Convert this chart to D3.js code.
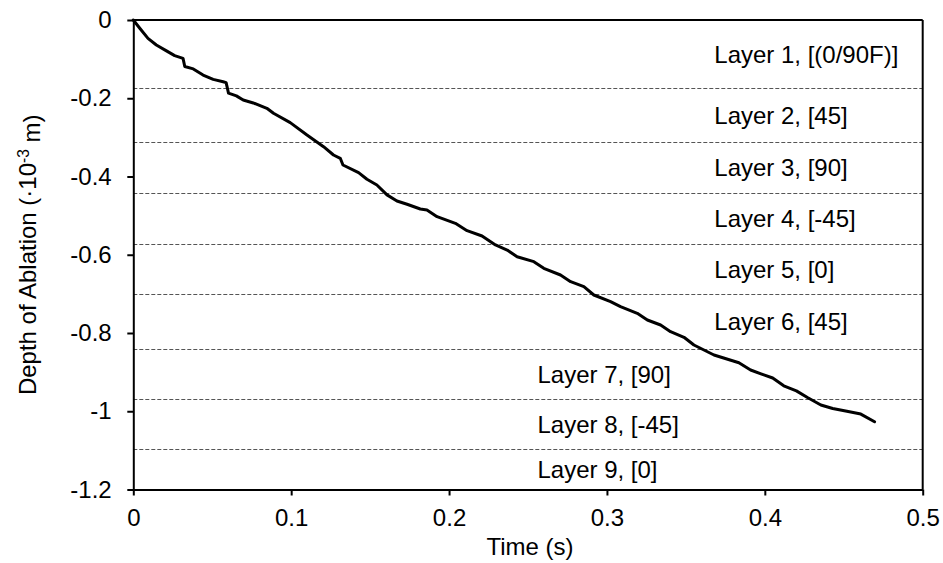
<!DOCTYPE html>
<html>
<head>
<meta charset="utf-8">
<script src="https://cdn.jsdelivr.net/npm/d3@7/dist/d3.min.js"></script>
<style>
  html, body { margin: 0; padding: 0; background: #fff; }
  svg { display: block; font-family: Arial, "Liberation Sans", Helvetica, sans-serif; }
</style>
</head>
<body>
<svg id="chart" width="943" height="563"></svg>
<script>
// Ablation depth over time (s, 10^-3 m)
const timeS = [0, 0.0041, 0.0093, 0.0146, 0.021, 0.0262, 0.0315, 0.0326, 0.038, 0.0442, 0.0506,
  0.0569, 0.0588, 0.0603, 0.0653, 0.0696, 0.0760, 0.0846, 0.0888, 0.0994, 0.110, 0.1205,
  0.1268, 0.1311, 0.1328, 0.1427, 0.148, 0.1543, 0.1607, 0.167, 0.1734, 0.1818, 0.186,
  0.1924, 0.204, 0.2114, 0.2209, 0.2294, 0.2368, 0.2431, 0.2537, 0.260, 0.2706, 0.277,
  0.2854, 0.2917, 0.3023, 0.3086, 0.3192, 0.3256, 0.334, 0.3403, 0.3488, 0.3551, 0.3678,
  0.3836, 0.391, 0.398, 0.405, 0.412, 0.420, 0.427, 0.4355, 0.443, 0.452, 0.4608, 0.4695];
const depth = [0, -0.0212, -0.047, -0.064, -0.079, -0.091, -0.098, -0.119, -0.125, -0.1406, -0.1517,
  -0.1577, -0.160, -0.187, -0.194, -0.2045, -0.212, -0.2257, -0.2385, -0.2624, -0.294, -0.3238,
  -0.345, -0.3535, -0.3706, -0.390, -0.407, -0.4217, -0.447, -0.4626, -0.471, -0.483, -0.4856,
  -0.5027, -0.5197, -0.5385, -0.552, -0.575, -0.5879, -0.605, -0.6177, -0.6347, -0.6518, -0.6688,
  -0.6816, -0.7029, -0.720, -0.7328, -0.7497, -0.7668, -0.7796, -0.7966, -0.811, -0.8307, -0.8562,
  -0.876, -0.8946, -0.905, -0.915, -0.935, -0.948, -0.965, -0.984, -0.993, -1.000, -1.0072, -1.0267];

// Ply boundaries (10^-3 m) and ply labels
const layerBounds = [-0.175, -0.311, -0.441, -0.5725, -0.701, -0.841, -0.969, -1.0965];
const layerNames = ["Layer 1, [(0/90F)]", "Layer 2, [45]", "Layer 3, [90]", "Layer 4, [-45]",
  "Layer 5, [0]", "Layer 6, [45]", "Layer 7, [90]", "Layer 8, [-45]", "Layer 9, [0]"];
const layerLabelTime = [0.368, 0.368, 0.368, 0.368, 0.368, 0.368, 0.256, 0.256, 0.256];

const xTicks = [0, 0.1, 0.2, 0.3, 0.4, 0.5];
const xTickLabels = ["0", "0.1", "0.2", "0.3", "0.4", "0.5"];
const yTicks = [0, -0.2, -0.4, -0.6, -0.8, -1.0, -1.2];
const yTickLabels = ["0", "-0.2", "-0.4", "-0.6", "-0.8", "-1", "-1.2"];

const W = 943, H = 563;
const margin = { top: 20, right: 20.3, bottom: 73.5, left: 133.3 };
const iw = W - margin.left - margin.right;
const ih = H - margin.top - margin.bottom;
const FS = 24;

const svg = d3.select("#chart");
const g = svg.append("g").attr("transform", `translate(${margin.left},${margin.top})`);

const x = d3.scaleLinear().domain([0, 0.5]).range([0, iw]);
const y = d3.scaleLinear().domain([-1.2, 0]).range([ih, 0]);

// Dashed ply boundaries
g.append("g").selectAll("line").data(layerBounds).join("line")
  .attr("x1", 0).attr("x2", iw)
  .attr("y1", d => Math.round(y(d)) + 0.5).attr("y2", d => Math.round(y(d)) + 0.5)
  .attr("stroke", "#555").attr("stroke-width", 1).attr("stroke-dasharray", "4,2");

// Ply labels, centred vertically in each ply
const edges = [0, ...layerBounds, -1.2];
const labelDepth = layerNames.map((_, i) => (edges[i] + edges[i + 1]) / 2);
g.append("g").selectAll("text").data(layerNames).join("text")
  .attr("x", (d, i) => x(layerLabelTime[i]))
  .attr("y", (d, i) => y(labelDepth[i]))
  .attr("dy", "0.36em")
  .attr("font-size", FS).attr("fill", "#000")
  .text(d => d);

// Axes
const xAxis = d3.axisBottom(x).tickValues(xTicks)
  .tickFormat((d, i) => xTickLabels[i]).tickSizeInner(6).tickSizeOuter(0).tickPadding(13.5);
const yAxis = d3.axisLeft(y).tickValues(yTicks)
  .tickFormat((d, i) => yTickLabels[i]).tickSizeInner(6).tickSizeOuter(0).tickPadding(15.6);

const gx = g.append("g").attr("transform", `translate(0,${ih})`).call(xAxis);
const gy = g.append("g").call(yAxis);
[gx, gy].forEach(a => {
  a.select(".domain").attr("stroke", "#000").attr("stroke-width", 2);
  a.selectAll(".tick line").attr("stroke", "#000").attr("stroke-width", 2);
  a.selectAll(".tick text").attr("font-size", FS).attr("fill", "#000")
    .attr("font-family", "Arial, 'Liberation Sans', sans-serif");
});

// Top and right frame
g.append("line").attr("x1", 0).attr("x2", iw).attr("y1", 0).attr("y2", 0)
  .attr("stroke", "#000").attr("stroke-width", 2);
g.append("line").attr("x1", iw).attr("x2", iw).attr("y1", 0).attr("y2", ih)
  .attr("stroke", "#000").attr("stroke-width", 2);

// Ablation curve
const pts = timeS.map((t, i) => [t, depth[i]]);
g.append("path").datum(pts)
  .attr("fill", "none").attr("stroke", "#000").attr("stroke-width", 3)
  .attr("stroke-linejoin", "round").attr("stroke-linecap", "round")
  .attr("d", d3.line().x(d => x(d[0])).y(d => y(d[1])));

// Axis titles
svg.append("text")
  .attr("x", margin.left + iw / 2 + 2).attr("y", 555)
  .attr("text-anchor", "middle").attr("font-size", FS).attr("fill", "#000")
  .text("Time (s)");

const yt = svg.append("text")
  .attr("transform", `translate(36,${margin.top + ih / 2}) rotate(-90)`)
  .attr("text-anchor", "middle").attr("font-size", FS).attr("fill", "#000");
yt.append("tspan").text("Depth of Ablation (·10");
yt.append("tspan").attr("dy", "-0.45em").attr("font-size", FS * 0.65).text("-3");
yt.append("tspan").attr("dy", "0.45em").text(" m)");
</script>
</body>
</html>
